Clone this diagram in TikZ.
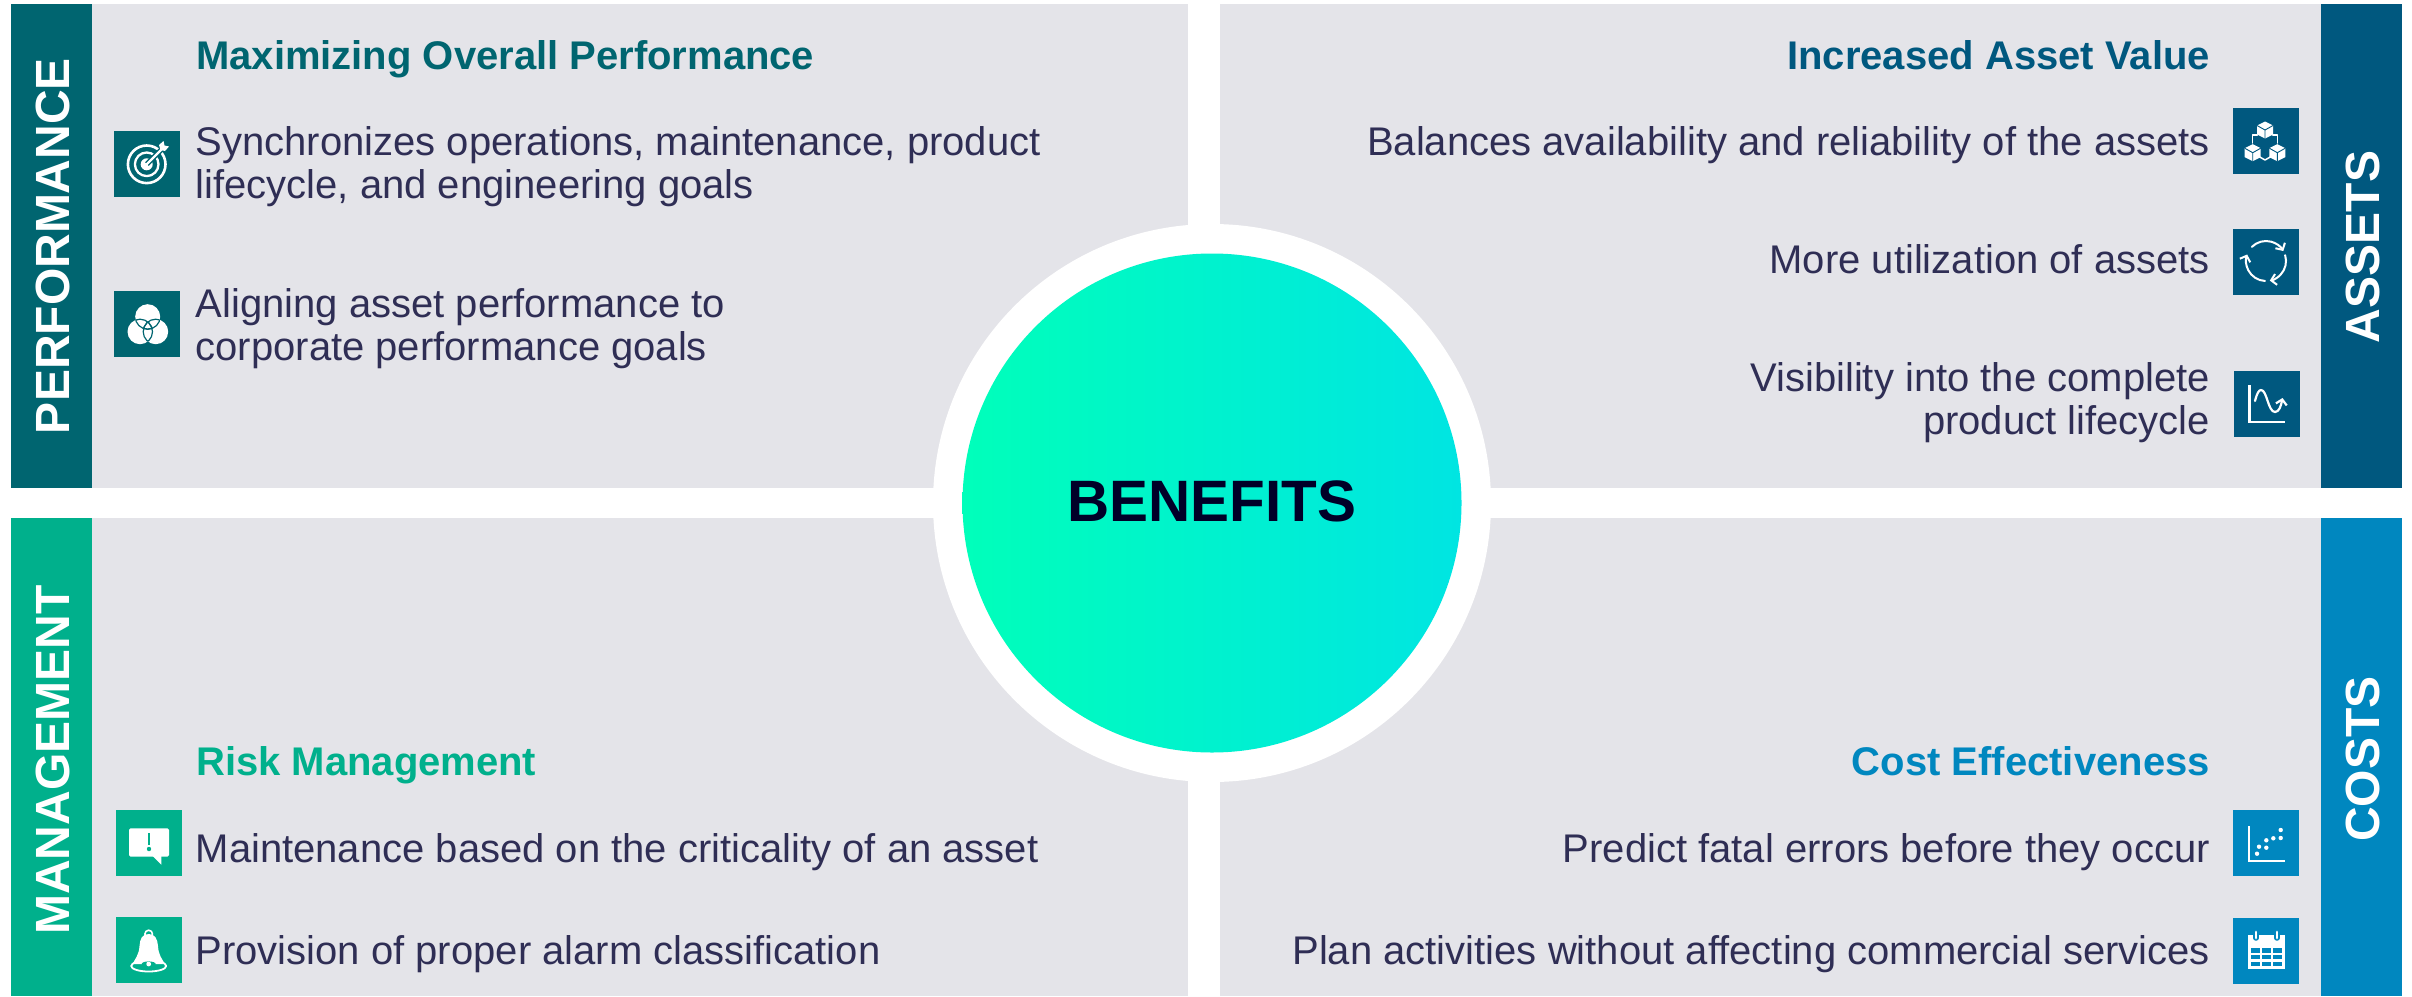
\documentclass[tikz,border=0pt]{standalone}
\usepackage{fontspec}
\setmainfont{Liberation Sans}
\usetikzlibrary{arrows.meta}
\definecolor{panelgray}{HTML}{E4E4E9}
\definecolor{bodyink}{HTML}{2F2E55}
\definecolor{cteal}{HTML}{006570}
\definecolor{cnavy}{HTML}{00587F}
\definecolor{cgreen}{HTML}{00B08C}
\definecolor{cblue}{HTML}{0087BF}
\definecolor{gradl}{HTML}{00FFBA}
\definecolor{gradr}{HTML}{00E5E2}
\definecolor{benink}{HTML}{000028}
\tikzset{
  panel/.style={fill=panelgray,draw=none},
  band/.style={draw=none},
  bandtext/.style={rotate=90,anchor=base,text=white,inner sep=0pt,font=\fontsize{48}{50}\selectfont\bfseries},
  headl/.style={anchor=base west,inner sep=0pt,font=\fontsize{40}{43}\selectfont\bfseries},
  headr/.style={anchor=base east,inner sep=0pt,font=\fontsize{40}{43}\selectfont\bfseries},
  bodyl/.style={anchor=west,inner sep=0pt,align=left,text=bodyink,font=\fontsize{40}{43}\selectfont},
  bodyr/.style={anchor=east,inner sep=0pt,align=right,text=bodyink,font=\fontsize{40}{43}\selectfont},
  iconbox/.style={anchor=north west,minimum size=66pt,inner sep=0pt,draw=none},
  ico/.style={draw=white,line width=1.5pt,line cap=round,line join=round},
  barb/.style={-{Straight Barb[length=5pt,width=11pt]}},
}
\begin{document}
\begin{tikzpicture}[x=1pt,y=-1pt]
\useasboundingbox[fill=white] (0,0) rectangle (2412,996);
% panels
\fill[panel] (92,4) rectangle (1188,488);
\fill[panel] (1220,4) rectangle (2321,488);
\fill[panel] (92,518) rectangle (1188,996);
\fill[panel] (1220,518) rectangle (2321,996);
% side bands
\fill[band,cteal] (11,4) rectangle (92,488);
\fill[band,cnavy] (2321,4) rectangle (2402,488);
\fill[band,cgreen] (11,518) rectangle (92,996);
\fill[band,cblue] (2321,518) rectangle (2402,996);
\node[bandtext] (lperf) at (69,246) {PERFORMANCE};
\node[bandtext] (lasset) at (2379,247) {ASSETS};
\node[bandtext] (lmgmt) at (69,760) {MANAGEMENT};
\node[bandtext] (lcost) at (2379,759) {COSTS};
% centre
\node[circle,fill=white,minimum size=558pt,inner sep=0pt] (ring) at (1212,503) {};
\node[circle,left color=gradl,right color=gradr,draw=none,minimum size=499pt,inner sep=0pt,text=benink,font=\fontsize{58.4}{62}\selectfont\bfseries] (benefits) at (1212,503) {\raisebox{3pt}{BENEFITS}};
% headings
\node[headl,text=cteal] (h1) at (196,69) {Maximizing Overall Performance};
\node[headr,text=cnavy] (h2) at (2210,69) {Increased Asset Value};
\node[headl,text=cgreen] (h3) at (196,775.5) {Risk Management};
\node[headr,text=cblue] (h4) at (2210,775.5) {Cost Effectiveness};
% body
\node[bodyl] (t1) at (195.5,166.5) {Synchronizes operations, maintenance, product\\lifecycle, and engineering goals};
\node[bodyl] (t2) at (195.5,328.5) {Aligning asset performance to\\corporate performance goals};
\node[bodyr] (t3) at (2210,145.5) {Balances availability and reliability of the assets};
\node[bodyr] (t4) at (2210,259.5) {More utilization of assets};
\node[bodyr] (t5) at (2210,403) {Visibility into the complete\\product lifecycle};
\node[bodyl] (t6) at (195.5,852) {Maintenance based on the criticality of an asset};
\node[bodyl] (t7) at (195.5,954.5) {Provision of proper alarm classification};
\node[bodyr] (t8) at (2210,852) {Predict fatal errors before they occur};
\node[bodyr] (t9) at (2210,954.5) {Plan activities without affecting commercial services};
% icon boxes
\node[iconbox,fill=cteal] (i1) at (114,131) {};
\node[iconbox,fill=cteal] (i2) at (114,291) {};
\node[iconbox,fill=cnavy] (i3) at (2233,108) {};
\node[iconbox,fill=cnavy] (i4) at (2233,229) {};
\node[iconbox,fill=cnavy] (i5) at (2234,371) {};
\node[iconbox,fill=cgreen] (i6) at (116,810) {};
\node[iconbox,fill=cgreen] (i7) at (116,917) {};
\node[iconbox,fill=cblue] (i8) at (2233,810) {};
\node[iconbox,fill=cblue] (i9) at (2233,918) {};
% target
\begin{scope}[shift={(114,131)}]
  \draw[ico,line width=2.6pt] (32.7,33.3) circle (18.8);
  \draw[ico,line width=2.3pt] (32.7,33.3) circle (11.8);
  \fill[white] (32.7,33.3) circle (6);
  \draw[cteal,line width=5pt] (33,33) -- (50,16);
  \draw[ico,line width=2.2pt] (33,33) -- (49,17);
  \fill[white] (45,14) -- (49.5,10) -- (50.5,14.5) -- (55,15.5) -- (51,20) -- (46.5,19) -- cycle;
\end{scope}
% venn
\begin{scope}[shift={(114,291)}]
  \fill[white] (33.7,25.7) circle (12.5) (26,40.7) circle (12.5) (41.7,40.7) circle (12.5);
  \begin{scope}\clip (33.7,25.7) circle (12.5);
    \draw[cteal,line width=1.2pt] (26,40.7) circle (12.5) (41.7,40.7) circle (12.5);\end{scope}
  \begin{scope}\clip (26,40.7) circle (12.5);
    \draw[cteal,line width=1.2pt] (33.7,25.7) circle (12.5) (41.7,40.7) circle (12.5);\end{scope}
  \begin{scope}\clip (41.7,40.7) circle (12.5);
    \draw[cteal,line width=1.2pt] (33.7,25.7) circle (12.5) (26,40.7) circle (12.5);\end{scope}
\end{scope}
% cubes
\begin{scope}[shift={(2233,108)}]
  \foreach \cx/\cy in {32/22,19.7/44.7,44.3/44.7}{
    \fill[white] (\cx,\cy-8.5) -- (\cx+8,\cy-4.5) -- (\cx+8,\cy+4.5) -- (\cx,\cy+8.5) -- (\cx-8,\cy+4.5) -- (\cx-8,\cy-4.5) -- cycle;
    \draw[cnavy,line width=.9pt] (\cx-8,\cy-4.5) -- (\cx,\cy) -- (\cx+8,\cy-4.5) (\cx,\cy) -- (\cx,\cy+8.5);
  }
  \draw[ico,line width=1.5pt] (24.3,27) -- (19.7,27) -- (19.7,35);
  \draw[ico,line width=1.5pt] (39.7,27) -- (44.3,27) -- (44.3,35);
  \draw[ico,line width=1.5pt] (25,48) -- (32,52) -- (39,48);
\end{scope}
% cycle
\begin{scope}[shift={(2233,229)}]
  \draw[ico,barb,line width=2pt] (33,32) ++(-135:20) arc[start angle=-135,end angle=-30,radius=20];
  \draw[ico,barb,line width=2pt] (33,32) ++(-17:20) arc[start angle=-17,end angle=79,radius=20];
  \draw[ico,barb,line width=2pt] (33,32) ++(93:20) arc[start angle=93,end angle=199,radius=20];
\end{scope}
% chart
\begin{scope}[shift={(2234,371)}]
  \draw[ico,line width=2.4pt,line cap=butt,line join=miter] (15.3,14) -- (15.3,50.7) -- (51.3,50.7);
  \draw[ico,barb,line width=2.2pt] (21,30) .. controls (23,22) and (25,19) .. (27,19) .. controls (33,19) and (34,41) .. (41,41) .. controls (45,41) and (47,35) .. (48.5,27);
\end{scope}
% alert
\begin{scope}[shift={(116,810)}]
  \fill[white,rounded corners=1.5pt] (13,18.3) rectangle (53,46.7);
  \fill[white] (36.7,46) -- (45.3,54.7) -- (45.3,46) -- cycle;
  \draw[cgreen,line width=2pt] (33,23) -- (33,35);
  \fill[cgreen] (33,39) circle (2.2);
\end{scope}
% bell
\begin{scope}[shift={(116,917)}]
  \draw[ico,line width=1.6pt] (32.7,17) circle (3.8);
  \draw[ico,line width=1.8pt] (32.7,49) ellipse (17.5 and 5.5);
  \fill[white] (32.7,17) .. controls (26,17) and (24,22) .. (23.5,29) .. controls (23,38) and (19,42) .. (16.5,47) .. controls (22,42.5) and (43,42.5) .. (49,47) .. controls (46,42) and (42.5,38) .. (42,29) .. controls (41.5,22) and (39,17) .. (32.7,17) -- cycle;
  \fill[white] (18,47) -- (47,47) -- (44,42) -- (21,42) -- cycle;
  \fill[cgreen] (32.7,47) ellipse (7 and 2.6);
  \fill[white] (32.7,47) circle (2.4);
\end{scope}
% scatter
\begin{scope}[shift={(2233,810)}]
  \draw[ico,line width=2.4pt,line cap=butt,line join=miter] (15.7,16) -- (15.7,50.7) -- (51.7,50.7);
  \foreach \px/\py in {24/43.7,26/36.7,33.3/37.7,33.3/30.3,40.3/28.3,47.7/28,47.7/20}{
    \fill[white] (\px,\py) circle (2.2);
  }
\end{scope}
% calendar
\begin{scope}[shift={(2233,918)}]
  \fill[white] (14.7,17) rectangle (52.3,51.3);
  \foreach \kx in {18,29,40}{\foreach \ky in {30.3,37,43.7}{
    \fill[cblue] (\kx,\ky) rectangle (\kx+9,\ky+4.4);
  }}
  \foreach \rx in {23,44}{
    \draw[cblue,line width=5.5pt,line cap=round] (\rx,14) -- (\rx,20);
    \draw[white,line width=2.8pt,line cap=round] (\rx,14) -- (\rx,20);
  }
\end{scope}
\end{tikzpicture}
\end{document}
